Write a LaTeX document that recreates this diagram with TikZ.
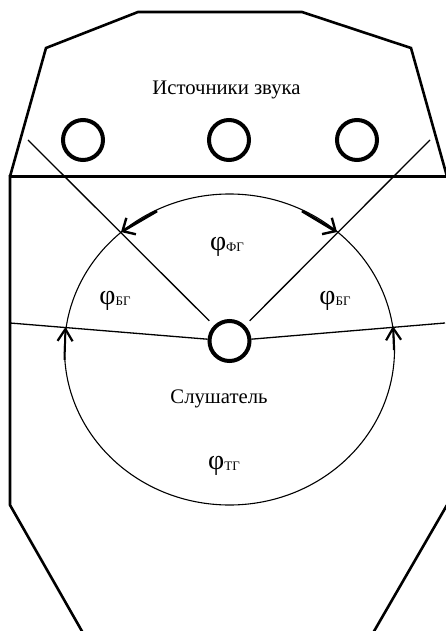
\documentclass[tikz,border=0pt]{standalone}
\usepackage{fontspec}
\setmainfont{Liberation Serif}
\usetikzlibrary{arrows.meta,shapes.geometric}
\newcommand{\phisub}[1]{{\fontsize{28}{28}\selectfont φ}\raisebox{-1pt}{\fontsize{13}{13}\selectfont #1}}
\tikzset{
    wall/.style={line width=2.6pt, line join=miter},
    ray/.style={line width=1.3pt},
    ringbox/.style={circle, draw, line width=4pt, minimum size=40pt, inner sep=0pt},
    sector/.style={->, >={Straight Barb[length=10pt,width=19pt,line width=2.4pt]}, line width=2.8pt},
    sidesector/.style={->, >={Straight Barb[length=12pt,width=15pt,line width=2.2pt]}, line width=2pt}
}
\begin{document}
\begin{tikzpicture}[x=1pt, y=-1pt]
        \useasboundingbox (0,0) rectangle (445,631);

        % Контур помещения
        \draw[wall] (10,176.5) -- (46,48) -- (138,12) -- (302,12) -- (411,48) -- (447,176.5);
        \draw[wall] (447,176.5) -- (10,176.5) -- (10,505) -- (83,633);
        \draw[wall] (447,505) -- (373,633);

        % Окружность
        \node[ellipse, draw, line width=1.1pt, minimum width=330pt, minimum height=311pt, inner sep=0pt] (round) at (229.5,349.5) {};

        % Источники
        \node (title) at (226.5,90) {\fontsize{20.7}{21}\selectfont Источники звука};
        \node[ringbox] (srcl) at (83,140) {};
        \node[ringbox] (srcc) at (229,140) {};
        \node[ringbox] (srcr) at (357,140) {};

        % Слушатель
        \node[ringbox] (listener) at (229.5,341) {};
        \node (listenertext) at (219,399) {\fontsize{20.7}{21}\selectfont Слушатель};

        % Границы секторов
        \coordinate (rayfl) at (28,140);
        \coordinate (rayfr) at (430,140);
        \coordinate (raybl) at (10,323);
        \coordinate (raybr) at (445,323);
        \draw[ray, shorten <=6.5pt] (listener) -- (rayfl);
        \draw[ray, shorten <=6.5pt] (listener) -- (rayfr);
        \draw[ray] (listener) -- (raybl);
        \draw[ray] (listener) -- (raybr);

        % Стрелки
        \coordinate (fltail) at (157,211);
        \coordinate (flhead) at (121,232);
        \coordinate (frtail) at (302,211);
        \coordinate (frhead) at (337,232);
        \coordinate (bltail) at (64.5,360);
        \coordinate (blhead) at (65.5,327);
        \coordinate (brtail) at (394,350);
        \coordinate (brhead) at (393,326);
        \draw[sector] (fltail) -- (flhead);
        \draw[sector] (frtail) -- (frhead);
        \draw[sidesector] (bltail) -- (blhead);
        \draw[sidesector] (brtail) -- (brhead);

        % Подписи
        \node (phif) at (227,247) {\phisub{ФГ}};
        \node (phibl) at (115,301) {\phisub{БГ}};
        \node (phibr) at (335,301) {\phisub{БГ}};
        \node (phit) at (224,466) {\phisub{ТГ}};
    \end{tikzpicture}
\end{document}
